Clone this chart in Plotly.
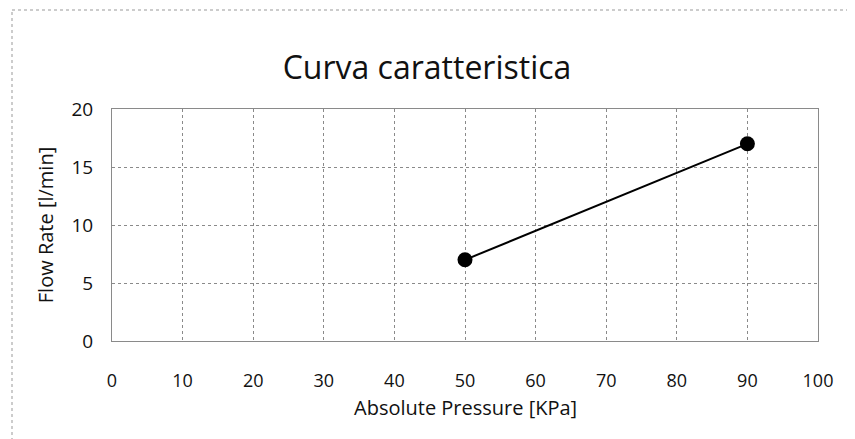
import plotly.graph_objects as go

pressure = [50, 90]
flow_rate = [7, 17]
x_ticks = [0, 10, 20, 30, 40, 50, 60, 70, 80, 90, 100]
y_ticks = [0, 5, 10, 15, 20]

fig = go.Figure()
fig.add_trace(go.Scatter(
    x=pressure, y=flow_rate, mode="lines+markers",
    line=dict(color="black", width=2),
    marker=dict(color="black", size=15),
    showlegend=False,
))

font_family = "Open Sans, Lato, sans-serif"
grid_color = "#8a8a8a"

fig.update_layout(
    width=855, height=439,
    margin=dict(l=104, r=45, t=101, b=106),
    paper_bgcolor="white", plot_bgcolor="white",
    title=dict(text="Curva caratteristica", x=419 / 855, xanchor="center",
               y=1 - 60 / 439, yanchor="middle",
               font=dict(family=font_family, size=32, color="#111")),
    font=dict(family=font_family, color="#111"),
    xaxis=dict(range=[0, 100], tickvals=x_ticks, ticktext=[str(v) for v in x_ticks],
               showgrid=True, gridcolor=grid_color, griddash="dot", gridwidth=1,
               showline=True, linecolor=grid_color, mirror=True, linewidth=1,
               zeroline=False, ticks="", tickfont=dict(size=18),
               ticklabelstandoff=23),
    yaxis=dict(range=[0, 20], tickvals=y_ticks, ticktext=[str(v) for v in y_ticks],
               showgrid=True, gridcolor=grid_color, griddash="dot", gridwidth=1,
               showline=True, linecolor=grid_color, mirror=True, linewidth=1,
               zeroline=False, ticks="", tickfont=dict(size=19),
               ticklabelstandoff=14,
               title=dict(text="Flow Rate [l/min]", font=dict(size=20), standoff=12)),
)

# x-axis title placed as an annotation for exact vertical placement
fig.add_annotation(text="Absolute Pressure [KPa]", xref="paper", yref="paper",
                   x=0.5, y=-(399 - 333) / 232, xanchor="center", yanchor="middle",
                   showarrow=False, font=dict(family=font_family, size=20, color="#111"))

# outer dotted chart border lines (as in the scanned original)
fig.add_shape(type="line", xref="paper", yref="paper",
              x0=(4 - 104) / 706, x1=(4 - 104) / 706, y0=-106 / 232, y1=1 + 99 / 232,
              line=dict(color="#999", width=1, dash="dot"))
fig.add_shape(type="line", xref="paper", yref="paper",
              x0=(4 - 104) / 706, x1=1 + 45 / 706, y0=1 + 99 / 232, y1=1 + 99 / 232,
              line=dict(color="#999", width=1, dash="dot"))

fig.write_html("out.html")
